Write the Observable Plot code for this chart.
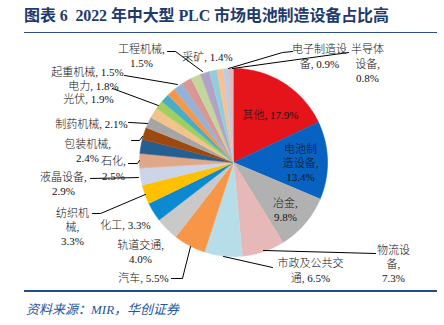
<!DOCTYPE html>
<html><head><meta charset="utf-8">
<script src="https://cdn.jsdelivr.net/npm/d3@7"></script>
<script src="https://cdn.jsdelivr.net/npm/@observablehq/plot@0.6"></script>
<style>
body{margin:0;background:#fff;}
#wrap{position:relative;width:444px;height:325px;overflow:hidden;font-family:"Liberation Serif","Noto Sans CJK SC",serif;}
#title{position:absolute;left:24px;top:6px;font-size:16px;font-weight:bold;color:#1f3a6d;white-space:nowrap;line-height:20px;letter-spacing:-0.1px;}
#rule1{position:absolute;left:24px;top:32px;width:413px;height:0;border-top:1.5px solid #2c4f8c;}
#chart{position:absolute;left:0;top:35px;}
#rule2{position:absolute;left:24px;top:290px;width:413px;height:0;border-top:2px solid #1f4e8c;}
#cap{position:absolute;left:26px;top:299px;font-size:13px;font-style:italic;color:#2356a0;white-space:nowrap;}
</style></head>
<body>
<div id="wrap">
  <div id="title">图表 6&nbsp; 2022 年中大型 PLC 市场电池制造设备占比高</div>
  <div id="rule1"></div>
  <div id="chart"></div>
  <div id="rule2"></div>
  <div id="cap">资料来源：MIR，华创证券</div>
</div>
<script>
// ---- data (clockwise from 12 o'clock) ----
const names = ["其他","电池制造设备","冶金","物流设备","市政及公共交通","汽车","轨道交通","化工","纺织机械","液晶设备","石化","包装机械","制药机械","光伏","电力","起重机械","工程机械","采矿","未标注1","未标注2","未标注3","未标注4","未标注5","未标注6","电子制造设备","半导体设备"];
const values = [17.9,13.4,9.8,7.3,6.5,5.5,4.0,3.3,3.3,2.9,2.5,2.4,2.1,1.9,1.8,1.5,1.5,1.4,1.7,1.7,1.7,1.6,1.3,1.1,0.9,0.8];
const colors = ["#e5141b","#0862c2","#b1b1b1","#e6b8b7","#b7dde8","#f79646","#c9c9c9","#0d89d2","#ffc000","#ccd4e8","#dfa888","#255e91","#9e480e","#a5a5a5","#f2c38b","#9fd05f","#4bacc6","#f79646","#95b3d7","#d99694","#c3d69b","#b3a2c7","#93cddd","#fac090","#b9cde5","#e6b9b8"];

// ---- label layout (units of pie radius, y downward) ----
const labelLayout = [
  {name:"其他", breaks:[], x:0.394, y:-0.511},
  {name:"电池制造设备", breaks:[3,7], x:0.713, y:0.0},
  {name:"冶金", breaks:[3], x:0.553, y:0.50},
  {name:"物流设备", breaks:[3,5], x:1.702, y:1.074, leader:[[0.319,0.936],[1.511,0.968]]},
  {name:"市政及公共交通", breaks:[6], x:0.819, y:1.144, leader:[[-0.106,1.0],[0.415,1.117]]},
  {name:"汽车", breaks:[], x:-0.957, y:1.223, leader:[[-0.457,0.894],[-0.543,1.234],[-0.66,1.234]]},
  {name:"轨道交通", breaks:[5], x:-0.989, y:0.947},
  {name:"化工", breaks:[], x:-1.149, y:0.66},
  {name:"纺织机械", breaks:[3,5], x:-1.713, y:0.681, leader:[[-0.936,0.34],[-1.415,0.543],[-1.5,0.543]]},
  {name:"液晶设备", breaks:[5], x:-1.809, y:0.223, leader:[[-1.011,0.16],[-1.521,0.17]]},
  {name:"石化", breaks:[3], x:-1.277, y:0.059, leader:[[-1.0,-0.021],[-1.021,0.011],[-1.117,0.011]]},
  {name:"包装机械", breaks:[5], x:-1.553, y:-0.128, leader:[[-0.968,-0.277],[-1.0,-0.234],[-1.085,-0.234]]},
  {name:"制药机械", breaks:[], x:-1.511, y:-0.415, leader:[[-0.915,-0.415],[-1.117,-0.426]]},
  {name:"光伏", breaks:[], x:-1.543, y:-0.681},
  {name:"电力", breaks:[], x:-1.489, y:-0.819, leader:[[-0.798,-0.606],[-1.287,-0.787]]},
  {name:"起重机械", breaks:[], x:-1.553, y:-0.968, leader:[[-0.596,-0.83],[-1.16,-0.926]]},
  {name:"工程机械", breaks:[5], x:-0.979, y:-1.138, leader:[[-0.33,-0.968],[-0.617,-1.181],[-0.702,-1.181]]},
  {name:"采矿", breaks:[], x:-0.277, y:-1.128},
  {name:"电子制造设备", breaks:[5], x:0.915, y:-1.133, leader:[[-0.053,-1.0],[0.521,-1.17],[0.628,-1.181]]},
  {name:"半导体设备", breaks:[3,6], x:1.426, y:-1.059, leader:[[-0.011,-1.0],[1.223,-1.17]]}
];

// ---- geometry helpers ----
const R = 94, CX = 233, CY = 127, W = 444, H = 256;
const data = names.map((n,i)=>({name:n, value:values[i], color:colors[i]}));
const arcs = d3.pie().sort(null).value(d=>d.value)(data);

const slicePts = [];
arcs.forEach(a=>{
  const d = a.data;
  slicePts.push({name:d.name, color:d.color, x:0, y:0});
  const steps = Math.max(2, Math.ceil((a.endAngle-a.startAngle)/(Math.PI/180)));
  for (let k=0;k<=steps;k++){
    const t = a.startAngle + (a.endAngle-a.startAngle)*k/steps;
    slicePts.push({name:d.name, color:d.color, x:Math.sin(t), y:-Math.cos(t)});
  }
});

const valueOf = Object.fromEntries(data.map(d=>[d.name,d.value]));
const labels = labelLayout.map(l=>{
  const s = `${l.name}, ${valueOf[l.name].toFixed(1)}%`;
  const cuts = [0, ...l.breaks, s.length];
  const lines = [];
  for (let i=0;i<cuts.length-1;i++) lines.push(s.slice(cuts[i],cuts[i+1]).trim());
  return {name:l.name, x:l.x, y:l.y, text:lines.join("\n")};
});
const leaderPts = [];
labelLayout.forEach(l=>{ if (l.leader) l.leader.forEach(p=>leaderPts.push({name:l.name, x:p[0], y:p[1]})); });

const chart = Plot.plot({
  width: W, height: H, margin: 0,
  style: {fontFamily: '"Liberation Serif","Noto Sans CJK SC",serif', background: "transparent"},
  x: {domain: [-CX/R, (W-CX)/R], range: [0, W], axis: null},
  y: {domain: [-CY/R, (H-CY)/R], range: [0, H], axis: null},
  color: {type: "identity"},
  marks: [
    Plot.line(slicePts, {x:"x", y:"y", z:"name", fill:"color", stroke:"color", strokeWidth:0.6}),
    Plot.line(leaderPts, {x:"x", y:"y", z:"name", stroke:"#000", strokeWidth:1}),
    Plot.text(labels, {x:"x", y:"y", text:"text", textAnchor:"middle", lineAnchor:"middle", lineHeight:1.3, fontSize:11, fontWeight:300, fill:"#111"})
  ]
});
document.getElementById("chart").appendChild(chart);
</script>
</body></html>
